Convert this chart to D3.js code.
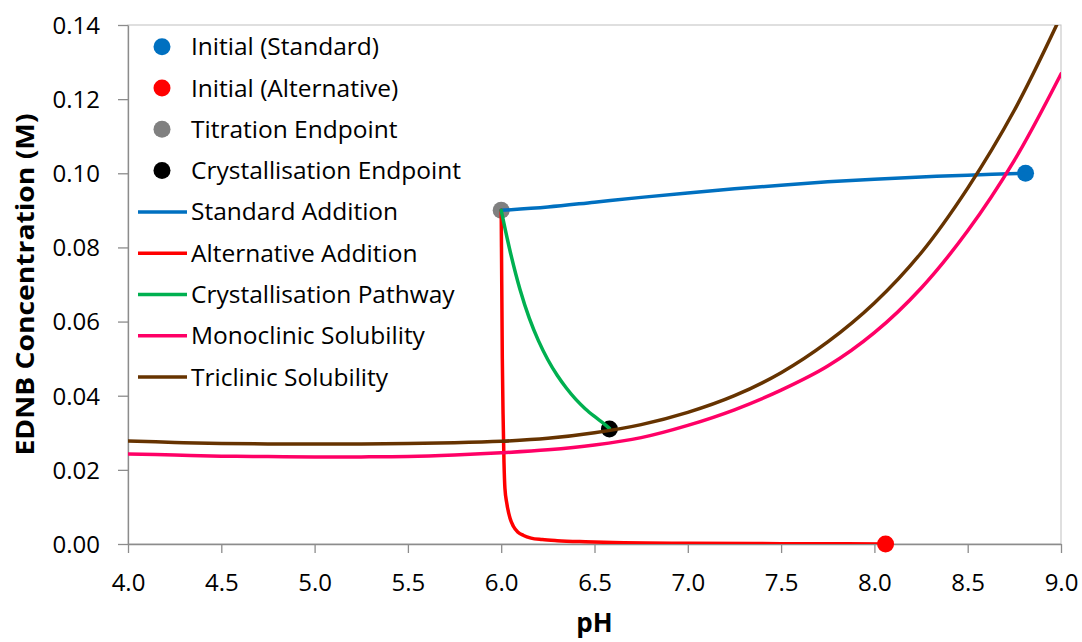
<!DOCTYPE html>
<html>
<head>
<meta charset="utf-8">
<script src="https://cdn.jsdelivr.net/npm/d3@7"></script>
<style>
  html, body { margin: 0; padding: 0; background: #fff; }
  svg { display: block; font-family: "Open Sans", "Noto Sans", sans-serif; }
</style>
</head>
<body>
<svg id="chart" width="1082" height="642"></svg>
<script>
// pH tick values (x) and concentration ticks (y)
const xTicks = [4.0, 4.5, 5.0, 5.5, 6.0, 6.5, 7.0, 7.5, 8.0, 8.5, 9.0];
const yTicks = [0.00, 0.02, 0.04, 0.06, 0.08, 0.10, 0.12, 0.14];

// Single points
const initialStandard = [{ pH: 8.81, c: 0.100 }];
const initialAlternative = [{ pH: 8.06, c: 0.000 }];
const titrationEndpoint = [{ pH: 6.00, c: 0.090 }];
const crystallisationEndpoint = [{ pH: 6.58, c: 0.031 }];

// Standard addition path
const standardPH = [6.00, 6.25, 6.50, 6.75, 7.00, 7.25, 7.50, 7.75, 8.00, 8.25, 8.50, 8.81];
const standardC  = [0.0900, 0.0909, 0.0922, 0.0935, 0.0947, 0.0958, 0.0968, 0.0977, 0.0984, 0.0990, 0.0995, 0.1000];

// Alternative addition path
const alternativePH = [6.000, 6.003, 6.006, 6.010, 6.015, 6.020, 6.030, 6.047, 6.065, 6.090, 6.120, 6.160, 6.220, 6.300, 6.450, 6.600, 7.000, 7.500, 8.060];
const alternativeC  = [0.0900, 0.0700, 0.0500, 0.0350, 0.0220, 0.0150, 0.0110, 0.0070, 0.0048, 0.0032, 0.0023, 0.0016, 0.0012, 0.0009, 0.0006, 0.0004, 0.0002, 0.0001, 0.0000];

// Crystallisation pathway
const crystPH = [6.00, 6.05, 6.10, 6.15, 6.20, 6.25, 6.30, 6.35, 6.40, 6.45, 6.50, 6.55, 6.58];
const crystC  = [0.0900, 0.0785, 0.0688, 0.0610, 0.0548, 0.0497, 0.0455, 0.0420, 0.0390, 0.0365, 0.0344, 0.0325, 0.0312];

// Solubility curves
const solubilityPH = [4.00, 4.25, 4.50, 4.75, 5.00, 5.25, 5.50, 5.75, 6.00, 6.25, 6.50, 6.75, 7.00, 7.25, 7.50, 7.75, 8.00, 8.25, 8.50, 8.75, 9.00];
const monoclinicC  = [0.0243, 0.0240, 0.0237, 0.0236, 0.0235, 0.0235, 0.0236, 0.0240, 0.0246, 0.0254, 0.0267, 0.0287, 0.0320, 0.0362, 0.0415, 0.0480, 0.0570, 0.0690, 0.0845, 0.1035, 0.1268];
const triclinicC   = [0.0278, 0.0274, 0.0271, 0.0270, 0.0270, 0.0270, 0.0271, 0.0273, 0.0277, 0.0285, 0.0300, 0.0322, 0.0355, 0.0400, 0.0462, 0.0545, 0.0650, 0.0785, 0.0960, 0.1170, 0.1425];

const zip = (xs, ys) => xs.map((x, i) => ({ pH: x, c: ys[i] }));

const svg = d3.select("#chart");
const margin = { left: 128, right: 21, top: 25, bottom: 98 };
const W = 1082, H = 642;
const x = d3.scaleLinear().domain([4, 9]).range([margin.left, W - margin.right]);
const y = d3.scaleLinear().domain([0, 0.14]).range([H - margin.bottom, margin.top]);

const axisGrey = "#8c8c8c";

// Plot frame
svg.append("rect")
  .attr("x", x(4)).attr("y", y(0.14))
  .attr("width", x(9) - x(4)).attr("height", y(0) - y(0.14))
  .attr("fill", "none").attr("stroke", "#bfbfbf").attr("stroke-width", 1);

// Axes
const xAxis = svg.append("g")
  .attr("transform", `translate(0,${y(0)})`)
  .call(d3.axisBottom(x).tickValues(xTicks).tickFormat(d3.format(".1f")).tickSizeInner(9).tickSizeOuter(0).tickPadding(21));
const yAxis = svg.append("g")
  .attr("transform", `translate(${x(4)},0)`)
  .call(d3.axisLeft(y).tickValues(yTicks).tickFormat(d3.format(".2f")).tickSizeInner(10).tickSizeOuter(0).tickPadding(18));

[xAxis, yAxis].forEach(g => {
  g.attr("font-family", null).attr("font-size", null);
  g.select(".domain").attr("stroke", axisGrey).attr("stroke-width", 1.3);
  g.selectAll(".tick line").attr("stroke", axisGrey).attr("stroke-width", 1.3);
  g.selectAll(".tick text").attr("fill", "#000").style("font-size", "24px");
});
yAxis.selectAll(".tick text").attr("dy", "0.35em");

// Axis titles
svg.append("text")
  .attr("x", (x(4) + x(9)) / 2).attr("y", 632)
  .attr("text-anchor", "middle")
  .style("font-size", "26px").style("font-weight", "bold")
  .text("pH");
svg.append("text")
  .attr("transform", `translate(34,${(y(0) + y(0.14)) / 2}) rotate(-90)`)
  .attr("text-anchor", "middle")
  .attr("textLength", 342).attr("lengthAdjust", "spacingAndGlyphs")
  .style("font-size", "25px").style("font-weight", "bold")
  .text("EDNB Concentration (M)");

// Clip curves to the plot area
svg.append("clipPath").attr("id", "plotClip")
  .append("rect")
  .attr("x", x(4)).attr("y", y(0.14))
  .attr("width", x(9) - x(4)).attr("height", y(0) - y(0.14));

// Markers sit beneath the lines
const markerLayer = svg.append("g");
const plot = svg.append("g").attr("clip-path", "url(#plotClip)");

const smooth = d3.line().x(d => x(d.pH)).y(d => y(d.c)).curve(d3.curveCatmullRom.alpha(0.5));
const monotone = d3.line().x(d => x(d.pH)).y(d => y(d.c)).curve(d3.curveMonotoneX);

const markers = [
  { name: "Initial (Standard)", data: initialStandard, color: "#0070C0" },
  { name: "Initial (Alternative)", data: initialAlternative, color: "#FF0000" },
  { name: "Titration Endpoint", data: titrationEndpoint, color: "#808080" },
  { name: "Crystallisation Endpoint", data: crystallisationEndpoint, color: "#000000" }
];
const lines = [
  { name: "Standard Addition", data: zip(standardPH, standardC), color: "#0070C0", gen: smooth },
  { name: "Alternative Addition", data: zip(alternativePH, alternativeC), color: "#FF0000", gen: monotone },
  { name: "Crystallisation Pathway", data: zip(crystPH, crystC), color: "#00B050", gen: smooth },
  { name: "Monoclinic Solubility", data: zip(solubilityPH, monoclinicC), color: "#FF0066", gen: smooth },
  { name: "Triclinic Solubility", data: zip(solubilityPH, triclinicC), color: "#663300", gen: smooth }
];

// Marker series
markers.forEach(s => {
  markerLayer.append("g").selectAll("circle").data(s.data).join("circle")
    .attr("cx", d => x(d.pH)).attr("cy", d => y(d.c)).attr("r", 8.5)
    .attr("fill", s.color);
});

// Line series
lines.forEach(s => {
  plot.append("path").datum(s.data)
    .attr("d", s.gen)
    .attr("fill", "none")
    .attr("stroke", s.color)
    .attr("stroke-width", 3.5)
    .attr("stroke-linejoin", "round")
    .attr("stroke-linecap", "round");
});

// Legend
const legend = svg.append("g");
const rowY = i => 46.7 + i * 41.3;
const entries = markers.map(m => ({ ...m, kind: "marker" })).concat(lines.map(l => ({ ...l, kind: "line" })));
entries.forEach((e, i) => {
  const g = legend.append("g").attr("transform", `translate(0,${rowY(i)})`);
  if (e.kind === "marker") {
    g.append("circle").attr("cx", 162).attr("cy", 0).attr("r", 8.5).attr("fill", e.color);
  } else {
    g.append("line").attr("x1", 138).attr("x2", 187).attr("y1", 0).attr("y2", 0)
      .attr("stroke", e.color).attr("stroke-width", 3.5);
  }
  g.append("text").attr("x", 191).attr("y", 0).attr("dy", "0.35em")
    .style("font-size", "24.5px").attr("fill", "#000")
    .text(e.name);
});
</script>
</body>
</html>
